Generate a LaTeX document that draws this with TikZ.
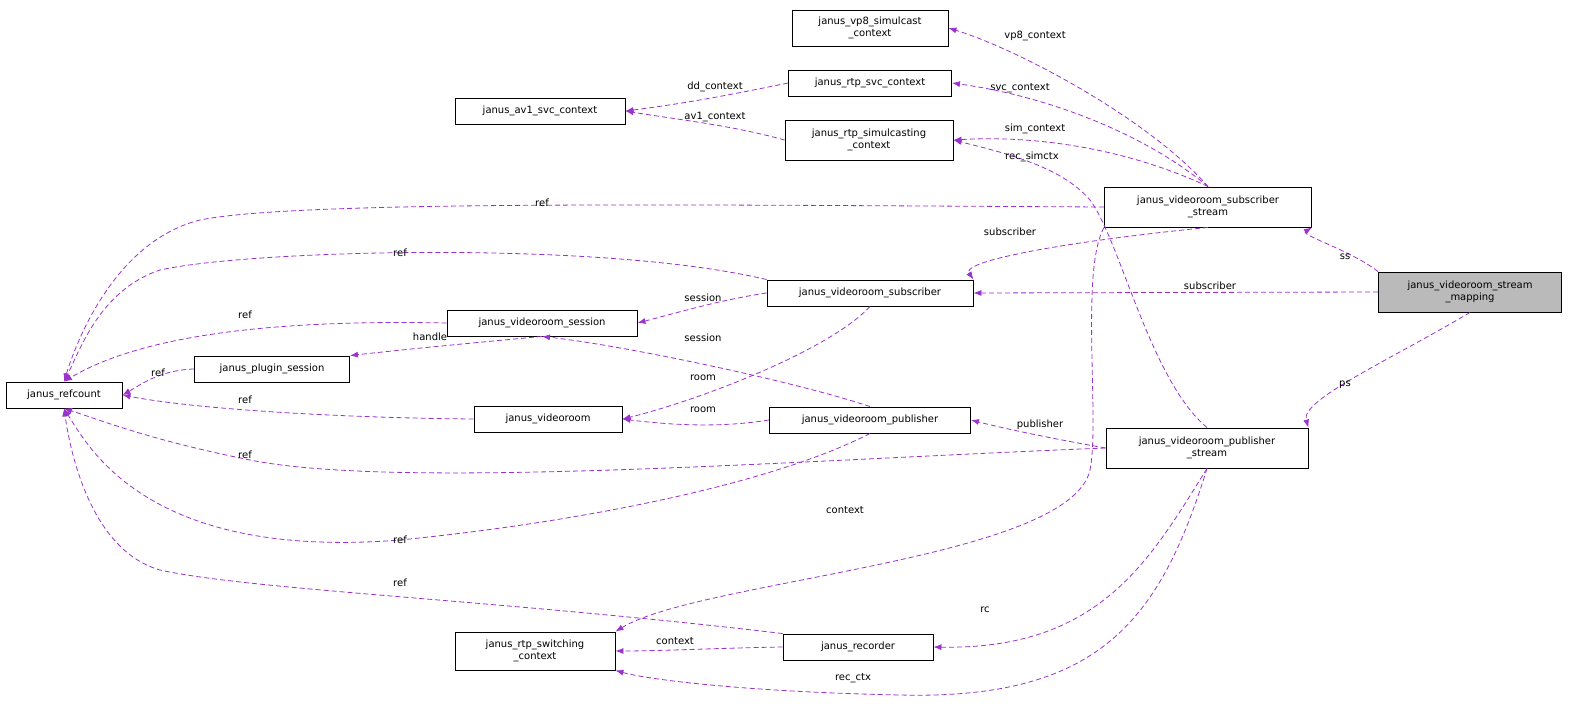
\documentclass[tikz,border=0pt]{standalone}
\usepackage{fontspec}
\setmainfont{DejaVu Sans}
\usetikzlibrary{arrows.meta}
\definecolor{ec}{HTML}{9A32CD}
\begin{document}
\begin{tikzpicture}[x=1pt,y=-1pt,
 box/.style={draw=black,line width=0.9pt,fill=white,inner sep=0pt,align=center,font=\fontsize{10}{11.5}\selectfont},
 e/.style={draw=ec,line width=0.8pt,dashed,dash pattern=on 5pt off 3pt,-{Latex[length=8pt,width=6pt]}},
 lbl/.style={font=\fontsize{10}{11}\selectfont,inner sep=1pt}]
\useasboundingbox (0,0) rectangle (1585,708);
\node[box,minimum width=156,minimum height=36] (vp8) at (870,28) {janus\_vp8\_simulcast\\\_context};
\node[box,minimum width=163,minimum height=26] (svc) at (870,83) {janus\_rtp\_svc\_context};
\node[box,minimum width=170,minimum height=26] (av1) at (540,111) {janus\_av1\_svc\_context};
\node[box,minimum width=168,minimum height=40] (simc) at (869,140) {janus\_rtp\_simulcasting\\\_context};
\node[box,minimum width=207,minimum height=40] (subs) at (1208,207) {janus\_videoroom\_subscriber\\\_stream};
\node[box,minimum width=183,minimum height=40,fill=black!27] (map) at (1470,292) {janus\_videoroom\_stream\\\_mapping};
\node[box,minimum width=206,minimum height=26] (sub) at (870,293) {janus\_videoroom\_subscriber};
\node[box,minimum width=190,minimum height=26] (sess) at (542,323) {janus\_videoroom\_session};
\node[box,minimum width=155,minimum height=26] (plug) at (272,369) {janus\_plugin\_session};
\node[box,minimum width=116,minimum height=26] (ref) at (64,395) {janus\_refcount};
\node[box,minimum width=148,minimum height=26] (vr) at (548,419) {janus\_videoroom};
\node[box,minimum width=201,minimum height=26] (pub) at (870,420) {janus\_videoroom\_publisher};
\node[box,minimum width=202,minimum height=40] (pubs) at (1207,448) {janus\_videoroom\_publisher\\\_stream};
\node[box,minimum width=160,minimum height=38] (sw) at (535,651) {janus\_rtp\_switching\\\_context};
\node[box,minimum width=150,minimum height=26] (rec) at (858,647) {janus\_recorder};

\draw[e] (subs.north) .. controls (1150,120) and (1020,50) .. (vp8.east) node[lbl,at={(1035,36)}]{vp8\_context};
\draw[e] (subs.north) .. controls (1140,130) and (1040,95) .. (svc.east) node[lbl,at={(1020,88)}]{svc\_context};
\draw[e] (svc.west) .. controls (720,97) and (680,104) .. (av1.east) node[lbl,at={(715,87)}]{dd\_context};
\draw[e] (simc.west) .. controls (730,125) and (680,120) .. (av1.east) node[lbl,at={(715,117)}]{av1\_context};
\draw[e] (subs.north) .. controls (1130,150) and (1040,135) .. (simc.east) node[lbl,at={(1035,129)}]{sim\_context};
\draw[e] (pubs.north) .. controls (1150,380) and (1120,240) .. (1090,200) .. controls (1060,165) and (1000,152) .. (simc.east) node[lbl,at={(1032,157)}]{rec\_simctx};
\draw[e] (subs.west) .. controls (700,205) and (300,200) .. (200,220) .. controls (120,240) and (80,330) .. (ref.north) node[lbl,at={(542,203)}]{ref};
\draw[e] (subs.south) .. controls (1080,240) and (960,260) .. (sub.north east) node[lbl,at={(1010,232)}]{subscriber};
\draw[e] (map.north west) .. controls (1350,250) and (1300,235) .. (subs.south east) node[lbl,at={(1345,257)}]{ss};
\draw[e] (map.west) -- (sub.east) node[lbl,at={(1210,286)}]{subscriber};
\draw[e] (map.south) .. controls (1390,360) and (1300,400) .. (pubs.north east) node[lbl,at={(1345,385)}]{ps};
\draw[e] (sub.north west) .. controls (600,240) and (250,250) .. (160,270) .. controls (100,290) and (80,350) .. (ref.north) node[lbl,at={(400,253)}]{ref};
\draw[e] (sub.west) .. controls (720,300) and (680,312) .. (sess.east) node[lbl,at={(703,298)}]{session};
\draw[e] (sub.south) .. controls (830,350) and (700,400) .. (vr.east) node[lbl,at={(703,378)}]{room};
\draw[e] (sess.west) .. controls (300,320) and (150,330) .. (ref.north) node[lbl,at={(245,315)}]{ref};
\draw[e] (sess.south) .. controls (450,345) and (400,350) .. (plug.north east) node[lbl,at={(430,337)}]{handle};
\draw[e] (plug.west) .. controls (160,370) and (140,385) .. (ref.east) node[lbl,at={(158,373)}]{ref};
\draw[e] (pub.north) .. controls (790,380) and (620,345) .. (sess.south) node[lbl,at={(703,338)}]{session};
\draw[e] (pub.west) .. controls (720,428) and (670,425) .. (vr.east) node[lbl,at={(703,410)}]{room};
\draw[e] (vr.west) .. controls (350,418) and (200,410) .. (ref.east) node[lbl,at={(245,400)}]{ref};
\draw[e] (pubs.west) .. controls (1060,440) and (1010,430) .. (pub.east) node[lbl,at={(1040,425)}]{publisher};
\draw[e] (pubs.west) .. controls (800,460) and (400,490) .. (250,460) .. controls (150,440) and (100,420) .. (ref.south) node[lbl,at={(245,455)}]{ref};
\draw[e] (pub.south) .. controls (780,480) and (600,520) .. (400,540) .. controls (150,560) and (90,450) .. (ref.south) node[lbl,at={(400,540)}]{ref};
\draw[e] (subs.south west) .. controls (1080,270) and (1100,420) .. (1090,470) .. controls (1070,560) and (700,580) .. (sw.north east) node[lbl,at={(845,510)}]{context};
\draw[e] (rec.north west) .. controls (500,600) and (250,590) .. (160,570) .. controls (90,550) and (70,450) .. (ref.south) node[lbl,at={(400,583)}]{ref};
\draw[e] (rec.west) .. controls (720,648) and (660,651) .. (sw.east) node[lbl,at={(675,641)}]{context};
\draw[e] (pubs.south) .. controls (1150,560) and (1100,650) .. (rec.east) node[lbl,at={(985,610)}]{rc};
\draw[e] (pubs.south) .. controls (1160,620) and (1100,700) .. (900,695) .. controls (750,692) and (650,680) .. (sw.south east) node[lbl,at={(853,678)}]{rec\_ctx};
\end{tikzpicture}
\end{document}
